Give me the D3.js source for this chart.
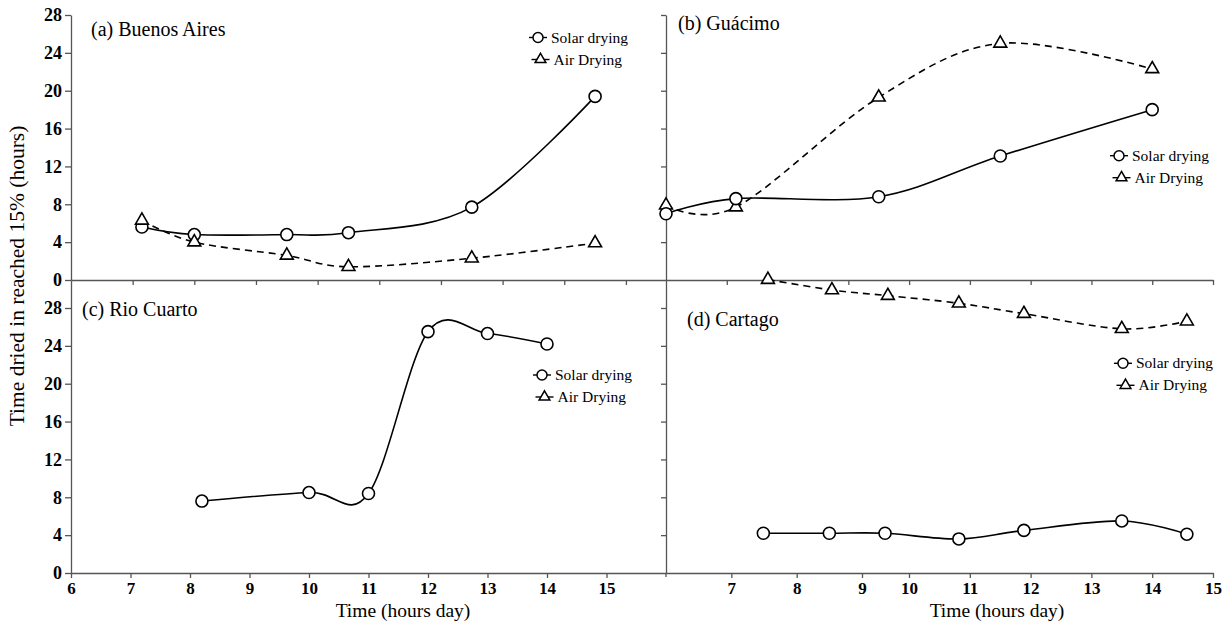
<!DOCTYPE html>
<html>
<head>
<meta charset="utf-8">
<script src="https://cdnjs.cloudflare.com/ajax/libs/d3/7.8.5/d3.min.js"></script>
<style>
    body { margin: 0; background: #fff; }
    svg text { font-family: "Liberation Serif", "Times New Roman", serif; fill: #000; }
    .axis path, .axis line { stroke: #555; stroke-width: 1.3; }
    .axis text { font-family: "Liberation Serif", serif; font-weight: bold; font-size: 17px; }
    .yax text { font-size: 18px; }
</style>
</head>
<body>
<svg id="chart" width="1232" height="629"></svg>
<script>
// values (time of day vs hours to reach 15%)
const hoursA = [7.15, 8, 9.5, 10.5, 12.5, 14.5];
const solarA = [5.6, 4.8, 4.8, 5.0, 7.7, 19.4];
const airA = [6.3, 4.0, 2.6, 1.4, 2.3, 3.9];

const hoursB = [6, 7.15, 9.5, 11.5, 14];
const solarB = [7.0, 8.6, 8.8, 13.1, 18.0];
const airB = [7.9, 7.7, 19.3, 25.0, 22.3];

const hoursC = [8.2, 10, 11, 12, 13, 14];
const solarC = [7.6, 8.5, 8.4, 25.5, 25.3, 24.2];

const hoursDSolar = [7.49, 8.5, 9.49, 10.82, 11.89, 13.5, 14.57];
const solarD = [4.2, 4.2, 4.2, 3.6, 4.5, 5.5, 4.1];
const hoursDAir = [7.56, 8.54, 9.55, 10.82, 11.89, 13.5, 14.57];
const airD = [31.0, 29.9, 29.3, 28.5, 27.4, 25.8, 26.6];

const yTicks = [0, 4, 8, 12, 16, 20, 24, 28];
const xTicksLeft = [6, 7, 8, 9, 10, 11, 12, 13, 14, 15];
const xTicksRight = [7, 8, 9, 10, 11, 12, 13, 14, 15];
const xTicksTopRight = [7, 9, 10, 11, 12, 13, 14, 15];

const legendNames = ["Solar drying", "Air Drying"];
const panelTitles = ["(a) Buenos Aires", "(b) Guácimo", "(c) Rio Cuarto", "(d) Cartago"];

const svg = d3.select('#chart');

// layout
const leftX = 71, midX = 666, rightX = 1213;
const topY = 15, midY = 280, botY = 573;

// y scales (same units per pixel in both rows)
const yTop = d3.scaleLinear().domain([0, 28]).range([midY, topY]);
const yBot = d3.scaleLinear().domain([0, (botY - midY) / ((midY - topY) / 28)]).range([botY, midY]);

// x scales - the original figure uses slightly different spacing in each panel
const xA = d3.scaleLinear().domain([6, 15.65]).range([leftX, midX]);
const xB = d3.scaleLinear().domain([6, 15]).range([midX, rightX]);
const xC = d3.scaleLinear().domain([6, 16]).range([leftX, midX]);
const xD = d3.scaleLinear().domain([6, 9, 10, 15]).range([midX, 862, 909, rightX]);

function zip(xs, ys){
    return xs.map((x, i) => ({x: x, y: ys[i]}));
}

const panels = [
    {x: xA, y: yTop, title: panelTitles[0], tx: 91, ty: 36,
     legend: [538, 37.5], series: [
        {data: zip(hoursA, solarA), type: 'circle'},
        {data: zip(hoursA, airA), type: 'triangle'}]},
    {x: xB, y: yTop, title: panelTitles[1], tx: 678, ty: 29.5,
     legend: [1119, 155.7], series: [
        {data: zip(hoursB, airB), type: 'triangle'},
        {data: zip(hoursB, solarB), type: 'circle'}]},
    {x: xC, y: yBot, title: panelTitles[2], tx: 82, ty: 316,
     legend: [542, 375], series: [
        {data: zip(hoursC, solarC), type: 'circle'}]},
    {x: xD, y: yBot, title: panelTitles[3], tx: 687, ty: 325.5,
     legend: [1123, 363.3], series: [
        {data: zip(hoursDAir, airD), type: 'triangle'},
        {data: zip(hoursDSolar, solarD), type: 'circle'}]}
];

// axes
function drawAxes(){
    // y axes
    svg.append('g').attr('class', 'axis yax')
        .attr('transform', 'translate(' + leftX + ',0)')
        .call(d3.axisLeft(yTop).tickValues(yTicks).tickSize(6).tickSizeOuter(0).tickPadding(3));
    svg.append('g').attr('class', 'axis yax')
        .attr('transform', 'translate(' + leftX + ',0)')
        .call(d3.axisLeft(yBot).tickValues(yTicks).tickSize(6).tickSizeOuter(0).tickPadding(3));
    svg.append('g').attr('class', 'axis')
        .attr('transform', 'translate(' + midX + ',0)')
        .call(d3.axisLeft(yTop).tickValues(yTicks.slice(1)).tickSize(5).tickSizeOuter(0).tickFormat(''));
    svg.append('g').attr('class', 'axis')
        .attr('transform', 'translate(' + midX + ',0)')
        .call(d3.axisLeft(yBot).tickValues(yTicks.slice(1)).tickSize(5).tickSizeOuter(0).tickFormat(''));
    // small stub of the middle axis below the bottom row
    svg.append('line')
        .attr('x1', midX).attr('x2', midX).attr('y1', botY).attr('y2', botY + 4)
        .attr('stroke', '#555').attr('stroke-width', 1.3);

    // x axes
    svg.append('g').attr('class', 'axis')
        .attr('transform', 'translate(0,' + midY + ')')
        .call(d3.axisBottom(xA).tickValues(xTicksLeft.slice(1)).tickSize(5).tickSizeOuter(0).tickFormat(''));
    svg.append('g').attr('class', 'axis')
        .attr('transform', 'translate(0,' + midY + ')')
        .call(d3.axisBottom(xB).tickValues(xTicksTopRight).tickSize(5).tickSizeOuter(0).tickFormat(''));
    svg.append('g').attr('class', 'axis')
        .attr('transform', 'translate(0,' + botY + ')')
        .call(d3.axisBottom(xC).tickValues(xTicksLeft).tickSize(5).tickSizeOuter(0).tickPadding(4));
    svg.append('g').attr('class', 'axis')
        .attr('transform', 'translate(0,' + botY + ')')
        .call(d3.axisBottom(xD).tickValues(xTicksRight).tickSize(5).tickSizeOuter(0).tickPadding(4));

    // axis titles
    svg.append('text')
        .attr('transform', 'translate(24,276) rotate(-90)')
        .attr('text-anchor', 'middle')
        .style('font-size', '21.5px')
        .text('Time dried in reached 15% (hours)');
    [403, 997].forEach(cx => {
        svg.append('text')
            .attr('x', cx).attr('y', 617)
            .attr('text-anchor', 'middle')
            .style('font-size', '19.5px')
            .text('Time (hours day)');
    });
}

function drawMarker(g, type, cx, cy){
    if(type == 'circle'){
        g.append('circle')
            .attr('cx', cx).attr('cy', cy).attr('r', 6)
            .attr('fill', '#fff').attr('stroke', '#000').attr('stroke-width', 1.6);
    }
    else{
        g.append('path')
            .attr('d', d3.symbol(d3.symbolTriangle, 72)())
            .attr('transform', 'translate(' + cx + ',' + cy + ')')
            .attr('fill', '#fff').attr('stroke', '#000').attr('stroke-width', 1.6);
    }
}

function drawPanel(p){
    let g = svg.append('g');
    // uniform catmull-rom gives the same overshoots as the original smoothing
    let line = d3.line()
        .x(d => p.x(d.x))
        .y(d => p.y(d.y))
        .curve(d3.curveCatmullRom.alpha(0));

    p.series.forEach(s => {
        g.append('path')
            .datum(s.data)
            .attr('d', line)
            .attr('fill', 'none')
            .attr('stroke', '#000')
            .attr('stroke-width', 1.6)
            .attr('stroke-dasharray', s.type == 'triangle' ? '7,5' : null);
    });
    p.series.forEach(s => {
        s.data.forEach(d => drawMarker(g, s.type, p.x(d.x), p.y(d.y)));
    });

    // panel title
    g.append('text')
        .attr('x', p.tx).attr('y', p.ty)
        .style('font-size', '20px')
        .text(p.title);

    // legend
    let lx = p.legend[0], ly = p.legend[1];
    ['circle', 'triangle'].forEach((t, i) => {
        let cx = lx + i * 2.5, cy = ly + i * 22;
        g.append('line')
            .attr('x1', cx - 9).attr('x2', cx + 9)
            .attr('y1', cy).attr('y2', cy)
            .attr('stroke', '#000').attr('stroke-width', 1.4);
        let m = g.append('g');
        if(t == 'circle'){
            m.append('circle').attr('cx', cx).attr('cy', cy).attr('r', 5)
                .attr('fill', '#fff').attr('stroke', '#000').attr('stroke-width', 1.5);
        }
        else{
            m.append('path').attr('d', d3.symbol(d3.symbolTriangle, 50)())
                .attr('transform', 'translate(' + cx + ',' + cy + ')')
                .attr('fill', '#fff').attr('stroke', '#000').attr('stroke-width', 1.5);
        }
        g.append('text')
            .attr('x', cx + 13).attr('y', cy + 5)
            .style('font-size', '15.5px')
            .text(legendNames[i]);
    });
}

drawAxes();
panels.forEach(p => drawPanel(p));
</script>
</body>
</html>
